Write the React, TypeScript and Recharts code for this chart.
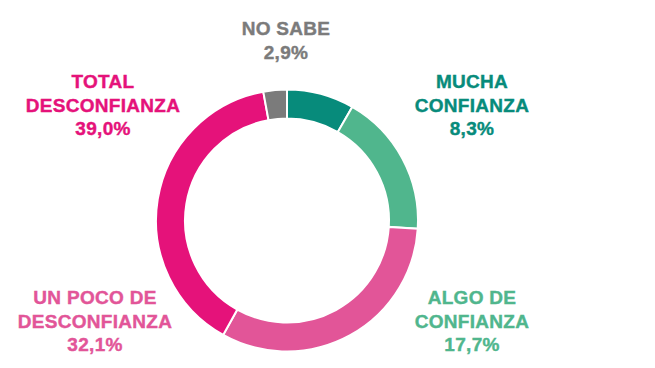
import React from 'react';
import { PieChart, Pie, Cell } from 'recharts';

// Opinion categories, clockwise from the top
const categories = ['MUCHA CONFIANZA', 'ALGO DE CONFIANZA', 'UN POCO DE DESCONFIANZA', 'TOTAL DESCONFIANZA', 'NO SABE'];
const values = [8.3, 17.7, 32.1, 39.0, 2.9];
const labelLines = [
  ['MUCHA', 'CONFIANZA'],
  ['ALGO DE', 'CONFIANZA'],
  ['UN POCO DE', 'DESCONFIANZA'],
  ['TOTAL', 'DESCONFIANZA'],
  ['NO SABE'],
];

const COLORS = ['#078B7B', '#50B68D', '#E25598', '#E5127A', '#7B7B7B'];

// where each label block sits (center x, first baseline)
const LABEL_POS = [
  { x: 472, y: 88 },
  { x: 472, y: 304 },
  { x: 95, y: 304 },
  { x: 103, y: 88 },
  { x: 286, y: 35 },
];

const data = categories.map((name, i) => ({ name, value: values[i] }));

const fmt = (v: number) => v.toFixed(1).replace('.', ',') + '%';

function renderLabel(props: any) {
  const i = props.index;
  const pos = LABEL_POS[i];
  const lines = [...labelLines[i], fmt(values[i])];
  return (
    <text
      key={`lbl-${i}`}
      x={pos.x}
      y={pos.y}
      textAnchor="middle"
      fill={COLORS[i]}
      stroke={COLORS[i]}
      strokeWidth={0.4}
      fontFamily="'Liberation Sans', Arial, sans-serif"
      fontWeight="bold"
      fontSize={19}
      letterSpacing={0.3}
    >
      {lines.map((l, j) => (
        <tspan key={j} x={pos.x} dy={j === 0 ? 0 : 23.5}>
          {l}
        </tspan>
      ))}
    </text>
  );
}

export default function App() {
  return (
    <div style={{ position: 'absolute', left: 0, top: 0, width: 655, height: 368, background: '#fff' }}>
      <PieChart width={655} height={368} margin={{ top: 0, right: 0, bottom: 0, left: 0 }}>
        <Pie
          data={data}
          dataKey="value"
          nameKey="name"
          cx={287}
          cy={220.5}
          innerRadius={102}
          outerRadius={131}
          startAngle={90}
          endAngle={-270}
          stroke="#ffffff"
          strokeWidth={2}
          label={renderLabel}
          labelLine={false}
          isAnimationActive={false}
        >
          {data.map((entry, index) => (
            <Cell key={`cell-${index}`} fill={COLORS[index]} />
          ))}
        </Pie>
      </PieChart>
    </div>
  );
}
